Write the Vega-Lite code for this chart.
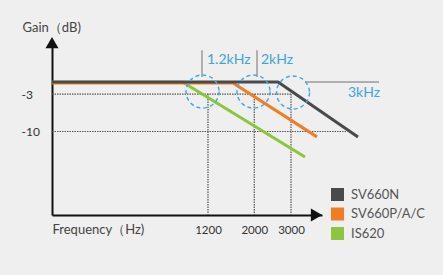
{
  "$schema": "https://vega.github.io/schema/vega-lite/v6.json",
  "autosize": {"type": "none"},
  "width": 270,
  "height": 175,
  "padding": {"left": 52, "top": 40, "right": 121, "bottom": 60},
  "background": "#efefef",
  "config": {
    "view": {"stroke": null},
    "font": "Lato",
    "axis": {"labelFont": "Lato", "titleFont": "Lato"},
    "legend": {"labelFont": "Lato"}
  },
  "layer": [
    {
      "data": {"values": [
        {"x": 214.5, "x2": 3000, "y": -3, "y2": -3},
        {"x": 214.5, "x2": 5566, "y": -10, "y2": -10},
        {"x": 1200, "x2": 1200, "y": -3, "y2": -25.6},
        {"x": 2000, "x2": 2000, "y": -3, "y2": -25.6},
        {"x": 3000, "x2": 3000, "y": -3, "y2": -25.6}
      ]},
      "mark": {"type": "rule", "color": "#555555", "strokeWidth": 1.2, "strokeDash": [1.5, 1]},
      "encoding": {
        "x": {"field": "x", "type": "quantitative",
          "scale": {"type": "log", "domain": [214.5, 4224], "nice": false},
          "axis": {"values": [1200, 2000, 3000], "format": "d", "tickSize": 0, "labelPadding": 9,
            "labelFontSize": 11.5, "labelColor": "#333333", "labelFlush": false,
            "domainColor": "#111111", "domainWidth": 2, "grid": false,
            "title": "Frequency（Hz)", "titleAlign": "left", "titleAnchor": "start", "titleX": 0, "titleY": 8,
            "titleBaseline": "top", "titleFontWeight": "normal", "titleFontSize": 13, "titleColor": "#444444"}},
        "x2": {"field": "x2"},
        "y": {"field": "y", "type": "quantitative",
          "scale": {"domain": [-25.6, 7.1], "nice": false, "zero": false},
          "axis": {"values": [-3, -10], "labelExpr": "'' + datum.value", "tickSize": 0, "labelAlign": "left", "labelPadding": 31,
            "labelBaseline": "middle", "labelFontSize": 12, "labelColor": "#333333",
            "domainColor": "#111111", "domainWidth": 2, "grid": false,
            "title": "Gain（dB)", "titleAngle": 0, "titleAlign": "left", "titleX": -30, "titleY": -13,
            "titleBaseline": "middle", "titleFontWeight": "normal", "titleFontSize": 13, "titleColor": "#444444"}},
        "y2": {"field": "y2"}
      }
    },
    {
      "data": {"values": [
        {"x": 1123, "x2": 1123, "y": 5.2, "y2": 0.17},
        {"x": 2062, "x2": 2062, "y": 5.2, "y2": 0.17},
        {"x": 3501, "x2": 7925, "y": -0.76, "y2": -0.76}
      ]},
      "mark": {"type": "rule", "color": "#9a9a9a", "strokeWidth": 1.5},
      "encoding": {
        "x": {"field": "x", "type": "quantitative"},
        "x2": {"field": "x2"},
        "y": {"field": "y", "type": "quantitative"},
        "y2": {"field": "y2"}
      }
    },
    {
      "data": {"values": [
        {"s": "IS620", "f": 214.5, "g": -0.8},
        {"s": "IS620", "f": 910, "g": -0.8},
        {"s": "IS620", "f": 3501, "g": -14.76},
        {"s": "SV660P/A/C", "f": 214.5, "g": -0.94},
        {"s": "SV660P/A/C", "f": 1582, "g": -0.94},
        {"s": "SV660P/A/C", "f": 3997, "g": -11.0},
        {"s": "SV660N", "f": 214.5, "g": -0.75},
        {"s": "SV660N", "f": 2600, "g": -0.75},
        {"s": "SV660N", "f": 6285, "g": -11.03}
      ]},
      "mark": {"type": "line", "strokeWidth": 3},
      "encoding": {
        "x": {"field": "f", "type": "quantitative"},
        "y": {"field": "g", "type": "quantitative"},
        "color": {"field": "s", "type": "nominal",
          "scale": {"domain": ["SV660N", "SV660P/A/C", "IS620"], "range": ["#4a4a4a", "#f47c20", "#8cc63f"]},
          "legend": {"orient": "none", "legendX": 279, "legendY": 148, "title": null, "padding": 0,
            "symbolType": "square", "symbolSize": 169, "labelFontSize": 13, "labelColor": "#555555",
            "labelOffset": 7, "rowPadding": 5.5,
            "encode": {"symbols": {"update": {"fill": {"scale": "color", "field": "value"}, "strokeWidth": {"value": 0}, "opacity": {"value": 1}}}}}
        },
        "detail": {"field": "s"}
      }
    },
    {
      "data": {"values": [
        {"f": 1130, "g": -2.53},
        {"f": 1983, "g": -2.53},
        {"f": 3067, "g": -2.72}
      ]},
      "mark": {"type": "point", "shape": "circle", "filled": false, "stroke": "#4aa8e0", "strokeWidth": 1.5, "strokeDash": [4, 3], "size": 1089, "opacity": 1},
      "encoding": {
        "x": {"field": "f", "type": "quantitative"},
        "y": {"field": "g", "type": "quantitative"}
      }
    },
    {
      "data": {"values": [{"f": 214.5, "g": 6.61}]},
      "mark": {"type": "point", "shape": "triangle-up", "filled": true, "color": "#111111", "size": 169, "opacity": 1},
      "encoding": {
        "x": {"field": "f", "type": "quantitative"},
        "y": {"field": "g", "type": "quantitative"}
      }
    },
    {
      "data": {"values": [{"f": 3976, "g": -25.6}]},
      "mark": {"type": "point", "shape": "triangle-right", "filled": true, "color": "#111111", "size": 169, "opacity": 1},
      "encoding": {
        "x": {"field": "f", "type": "quantitative"},
        "y": {"field": "g", "type": "quantitative"}
      }
    },
    {
      "data": {"values": [
        {"f": 1187, "g": 3.35, "t": "1.2kHz"},
        {"f": 2154, "g": 3.35, "t": "2kHz"},
        {"f": 5628, "g": -2.81, "t": "3kHz"}
      ]},
      "mark": {"type": "text", "align": "left", "baseline": "middle", "fontSize": 14, "color": "#3ea4dc", "font": "Lato"},
      "encoding": {
        "x": {"field": "f", "type": "quantitative"},
        "y": {"field": "g", "type": "quantitative"},
        "text": {"field": "t"}
      }
    }
  ]
}
